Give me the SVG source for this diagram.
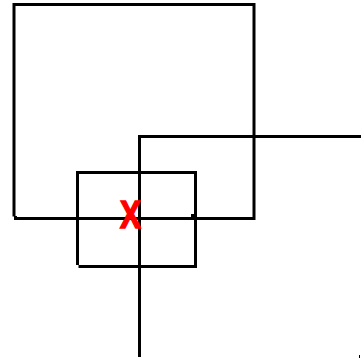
<svg xmlns="http://www.w3.org/2000/svg" width="361" height="358" viewBox="0 0 361 358">
<style>
.ln{fill:none;stroke:#000;stroke-width:3;stroke-linecap:butt;stroke-linejoin:miter}
.mark{font-family:"Liberation Sans",Arial,sans-serif;font-weight:bold;fill:#ff0000;stroke:#ff0000;stroke-width:1.6;stroke-linejoin:miter}
</style>
<rect width="361" height="358" fill="#fff"/>
<g id="big-frame">
<path class="ln" d="M14,216.5 V4.5 H254 V218.5 H15.5 V216"/>
</g>
<g id="corner-line">
<path class="ln" d="M139.5,357 V136.5 H361"/>
</g>
<g id="small-frame">
<path class="ln" d="M77.5,265 V172.5 H195.5 V266.5 H78.5"/>
<rect x="191" y="214" width="3" height="3" fill="#000"/>
</g>
<rect x="359" y="355" width="1" height="3" fill="#000"/>
<g id="x-mark">
<text class="mark" transform="translate(130.5,227.5) scale(0.78,0.97)" font-size="40" text-anchor="middle">X</text>
</g>
</svg>
